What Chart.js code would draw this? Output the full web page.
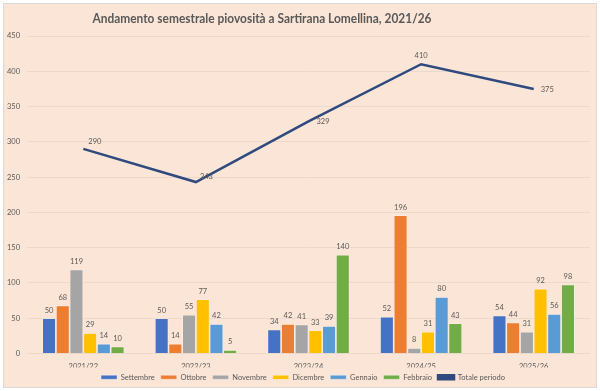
<!DOCTYPE html>
<html>
<head>
<meta charset="utf-8">
<script src="https://cdn.jsdelivr.net/npm/chart.js@4"></script>
<style>
html,body{margin:0;padding:0;background:#fff;}
#wrap{width:600px;height:391px;position:relative;}
</style>
</head>
<body>
<div id="wrap"><canvas id="c" width="600" height="391"></canvas></div>
<script>
const categories = ['2021/22', '2022/23', '2023/24', '2024/25', '2025/26'];
const settembre = [50, 50, 34, 52, 54];
const ottobre   = [68, 14, 42, 196, 44];
const novembre  = [119, 55, 41, 8, 31];
const dicembre  = [29, 77, 33, 31, 92];
const gennaio   = [14, 42, 39, 80, 56];
const febbraio  = [10, 5, 140, 43, 98];
const totale    = [290, 243, 329, 410, 375];
const yTicks    = [0, 50, 100, 150, 200, 250, 300, 350, 400, 450];
const titleText = 'Andamento semestrale piovosità a Sartirana Lomellina, 2021/26';

const FONT = 'Lato, "Open Sans", sans-serif';
const TXT = '#595959';

const bgPlugin = {
  id: 'bg',
  beforeDraw(chart) {
    const ctx = chart.ctx;
    ctx.save();
    ctx.fillStyle = '#ffffff';
    ctx.fillRect(0, 0, chart.width, chart.height);
    ctx.fillStyle = '#FBE5D6';
    ctx.fillRect(3, 3, chart.width - 6, chart.height - 6);
    ctx.strokeStyle = '#D9D9D9';
    ctx.lineWidth = 1;
    ctx.strokeRect(3.5, 3.5, chart.width - 7, chart.height - 7);
    ctx.restore();
  }
};

const titlePlugin = {
  id: 'customTitle',
  afterDraw(chart) {
    const ctx = chart.ctx;
    ctx.save();
    ctx.font = 'bold 14px ' + FONT;
    ctx.fillStyle = TXT;
    ctx.textAlign = 'center';
    ctx.textBaseline = 'middle';
    const w = ctx.measureText(titleText).width;
    const sx = 339 / w;
    ctx.translate(262, 18);
    ctx.scale(sx, 1);
    ctx.fillText(titleText, 0, 0);
    ctx.restore();
  }
};

const legendShift = {
  id: 'legendShift',
  afterLayout(chart) {
    if (chart.legend) { chart.legend.left += 8; chart.legend.right += 8; }
  }
};

const labelPlugin = {
  id: 'valueLabels',
  afterDatasetsDraw(chart) {
    const ctx = chart.ctx;
    ctx.save();
    ctx.font = '7.5px ' + FONT;
    ctx.fillStyle = TXT;
    ctx.textBaseline = 'middle';
    const lineOffsets = [[5, -7, 'left'], [4, -5, 'left'], [8, 0, 'left'], [0, -9, 'center'], [7, 1, 'left']];
    chart.data.datasets.forEach((ds, di) => {
      const meta = chart.getDatasetMeta(di);
      meta.data.forEach((el, i) => {
        const v = ds.data[i];
        if (ds.type === 'line') {
          const o = lineOffsets[i];
          ctx.textAlign = o[2];
          ctx.fillText(String(v), el.x + o[0], el.y + o[1]);
        } else {
          ctx.textAlign = 'center';
          ctx.fillText(String(v), el.x, el.y - 8);
        }
      });
    });
    ctx.restore();
  }
};

const barDs = (label, data, color) => ({
  type: 'bar', label, data,
  backgroundColor: color,
  borderColor: 'rgba(255,255,255,0.45)',
  borderWidth: 0.8,
  categoryPercentage: 0.73,
  barPercentage: 1,
  order: 2
});

new Chart(document.getElementById('c'), {
  data: {
    labels: categories,
    datasets: [
      barDs('Settembre', settembre, '#4472C4'),
      barDs('Ottobre', ottobre, '#ED7D31'),
      barDs('Novembre', novembre, '#A5A5A5'),
      barDs('Dicembre', dicembre, '#FFC000'),
      barDs('Gennaio', gennaio, '#5B9BD5'),
      barDs('Febbraio', febbraio, '#70AD47'),
      {
        type: 'line', label: 'Totale periodo', data: totale,
        borderColor: '#2F4A7E', backgroundColor: '#2F4A7E',
        borderWidth: 2.5, pointRadius: 0, tension: 0, order: 1
      }
    ]
  },
  options: {
    responsive: false,
    animation: false,
    layout: { padding: { left: 0, right: 10, top: 36, bottom: 0 } },
    plugins: {
      title: { display: false },
      tooltip: { enabled: false },
      legend: {
        position: 'bottom',
        labels: {
          boxWidth: 16, boxHeight: 4,
          font: { size: 7.5, family: FONT },
          color: TXT,
          padding: 6,
          sort: (a, b) => a.datasetIndex - b.datasetIndex
        }
      }
    },
    scales: {
      x: {
        offset: true,
        afterFit(scale) { scale.height = 14; },
        grid: { display: false, drawTicks: false },
        border: { display: false },
        ticks: { font: { size: 7.5, family: FONT }, color: TXT, padding: 9 }
      },
      y: {
        min: 0, max: 450,
        afterBuildTicks(scale) { scale.ticks = yTicks.map(v => ({ value: v })); },
        afterFit(scale) { scale.width = 27; },
        grid: { color: '#EBD9CD', lineWidth: 1, drawTicks: false },
        border: { display: false },
        ticks: { font: { size: 7.5, family: FONT }, color: TXT, padding: 7 }
      }
    }
  },
  plugins: [bgPlugin, titlePlugin, legendShift, labelPlugin]
});
</script>
</body>
</html>
